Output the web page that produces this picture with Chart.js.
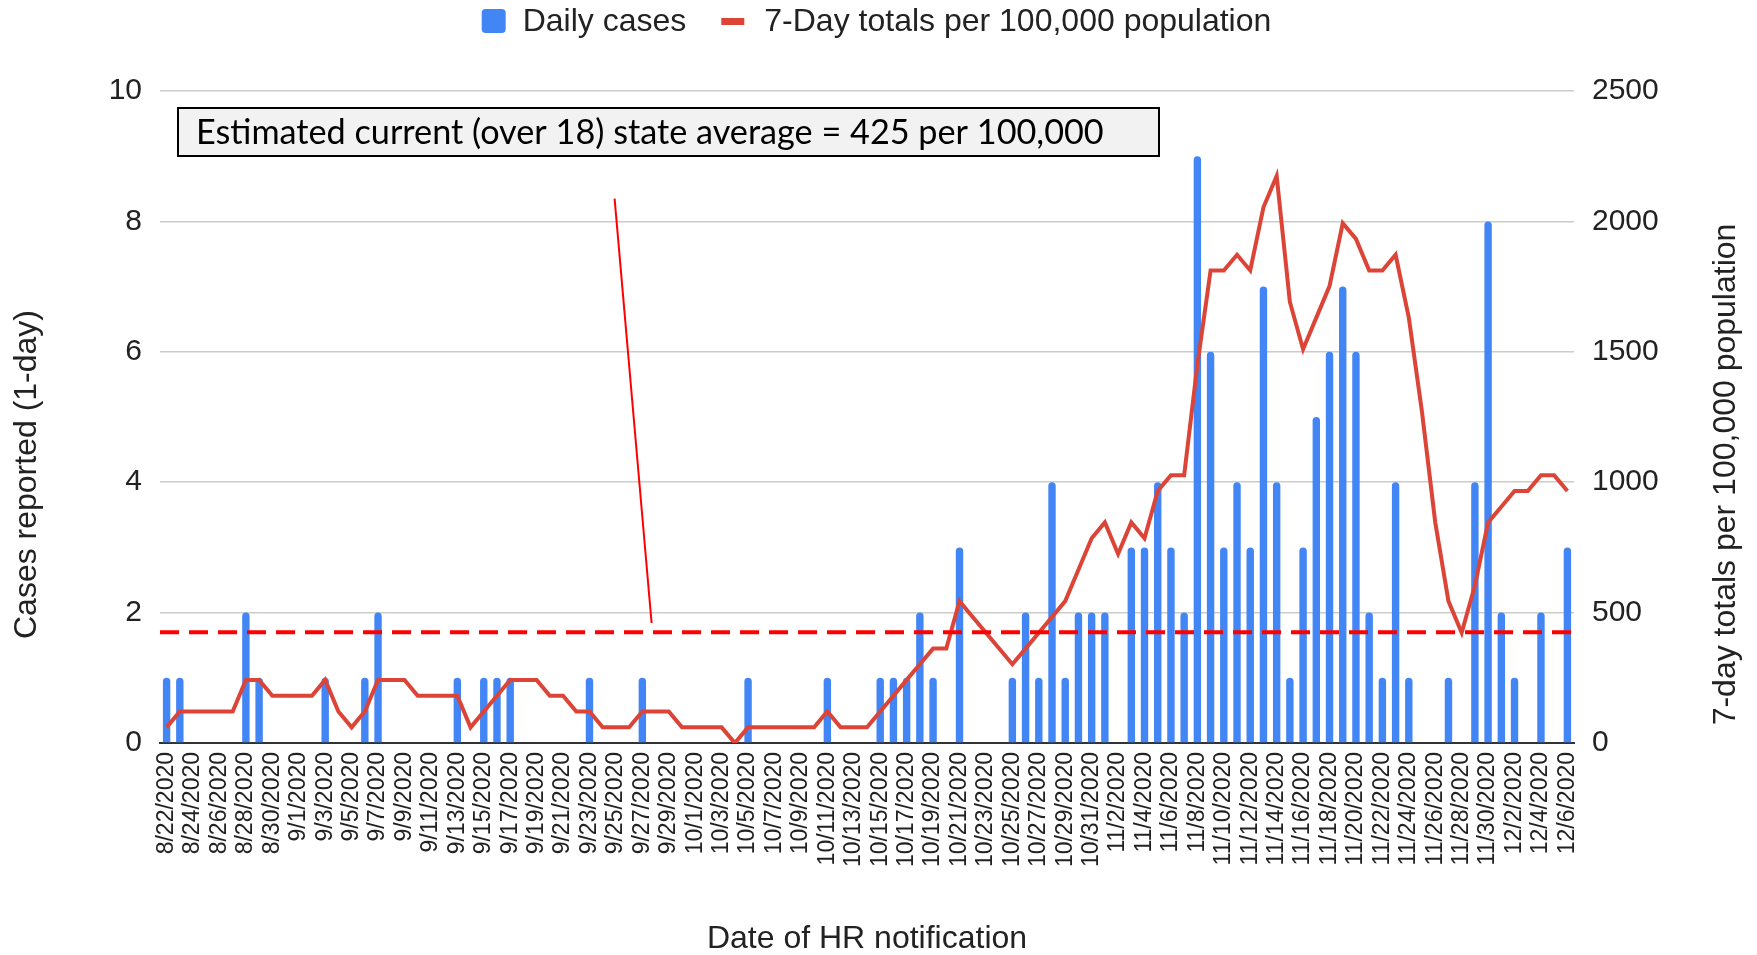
<!DOCTYPE html>
<html><head><meta charset="utf-8">
<script src="https://cdn.jsdelivr.net/npm/chart.js@4.4.1/dist/chart.umd.min.js"></script>
<style>html,body{margin:0;padding:0;background:#fff;}#wrap{width:1757px;height:955px;position:relative;}</style>
</head><body><div id="wrap"><canvas id="c" width="1757" height="955"></canvas></div>
<script>
const categories = [
'8/22/2020','8/23/2020','8/24/2020','8/25/2020','8/26/2020','8/27/2020','8/28/2020','8/29/2020','8/30/2020','8/31/2020',
'9/1/2020','9/2/2020','9/3/2020','9/4/2020','9/5/2020','9/6/2020','9/7/2020','9/8/2020','9/9/2020','9/10/2020',
'9/11/2020','9/12/2020','9/13/2020','9/14/2020','9/15/2020','9/16/2020','9/17/2020','9/18/2020','9/19/2020','9/20/2020',
'9/21/2020','9/22/2020','9/23/2020','9/24/2020','9/25/2020','9/26/2020','9/27/2020','9/28/2020','9/29/2020','9/30/2020',
'10/1/2020','10/2/2020','10/3/2020','10/4/2020','10/5/2020','10/6/2020','10/7/2020','10/8/2020','10/9/2020','10/10/2020',
'10/11/2020','10/12/2020','10/13/2020','10/14/2020','10/15/2020','10/16/2020','10/17/2020','10/18/2020','10/19/2020','10/20/2020',
'10/21/2020','10/22/2020','10/23/2020','10/24/2020','10/25/2020','10/26/2020','10/27/2020','10/28/2020','10/29/2020','10/30/2020',
'10/31/2020','11/1/2020','11/2/2020','11/3/2020','11/4/2020','11/5/2020','11/6/2020','11/7/2020','11/8/2020','11/9/2020',
'11/10/2020','11/11/2020','11/12/2020','11/13/2020','11/14/2020','11/15/2020','11/16/2020','11/17/2020','11/18/2020','11/19/2020',
'11/20/2020','11/21/2020','11/22/2020','11/23/2020','11/24/2020','11/25/2020','11/26/2020','11/27/2020','11/28/2020','11/29/2020',
'11/30/2020','12/1/2020','12/2/2020','12/3/2020','12/4/2020','12/5/2020','12/6/2020'
];
const dailyCases = [
1,1,0,0,0,0,2,1,0,0,
0,0,1,0,0,1,2,0,0,0,
0,0,1,0,1,1,1,0,0,0,
0,0,1,0,0,0,1,0,0,0,
0,0,0,0,1,0,0,0,0,0,
1,0,0,0,1,1,1,2,1,0,
3,0,0,0,1,2,1,4,1,2,
2,2,0,3,3,4,3,2,9,6,
3,4,3,7,4,1,3,5,6,7,
6,2,1,4,1,0,0,1,0,4,
8,2,1,0,2,0,3
];
const sevenDayTotals = [
60,121,121,121,121,121,242,242,181,181,
181,181,242,121,60,121,242,242,242,181,
181,181,181,60,121,181,242,242,242,181,
181,121,121,60,60,60,121,121,121,60,
60,60,60,0,60,60,60,60,60,60,
121,60,60,60,121,181,242,302,362,362,
544,483,423,362,302,362,423,483,544,664,
785,846,725,846,785,966,1027,1027,1450,1812,
1812,1872,1812,2054,2174,1691,1510,1631,1752,1993,
1933,1812,1812,1872,1631,1268,846,544,423,604,
846,906,966,966,1027,1027,966
];
const leftTicks = [0, 2, 4, 6, 8, 10];
const rightTicks = [0, 500, 1000, 1500, 2000, 2500];
const STATE_AVERAGE = 425;
const seriesNames = ['Daily cases', '7-Day totals per 100,000 population'];
const xTitle = 'Date of HR notification';
const leftTitle = 'Cases reported (1-day)';
const rightTitle = '7-day totals per 100,000 population';
const noteText = 'Estimated current (over 18) state average = 425 per 100,000';
// annotation pointer anchored in data space: [category index, left-axis value]
const pointerFrom = [33.9, 8.35];
const pointerTo = [36.7, 1.84];

const FONT = "'Liberation Sans', Arial, sans-serif";
const BLUE = '#4285f4', RED = '#db4437', TXT = '#222222';

const overlay = {
  id: 'overlay',
  afterDatasetsDraw(chart) {
    const {ctx, chartArea: a, scales} = chart;
    const yy = scales.y1.getPixelForValue(STATE_AVERAGE);
    ctx.save();
    ctx.strokeStyle = '#ff0000'; ctx.lineWidth = 4; ctx.setLineDash([19, 10]);
    ctx.beginPath(); ctx.moveTo(a.left, yy); ctx.lineTo(a.right, yy); ctx.stroke();
    ctx.restore();
  },
  afterDraw(chart) {
    const {ctx, chartArea: a, scales} = chart;
    ctx.save();
    ctx.strokeStyle = '#ff0000'; ctx.lineWidth = 2;
    ctx.beginPath();
    ctx.moveTo(scales.x.getPixelForValue(pointerFrom[0]), scales.y.getPixelForValue(pointerFrom[1]));
    ctx.lineTo(scales.x.getPixelForValue(pointerTo[0]), scales.y.getPixelForValue(pointerTo[1]));
    ctx.stroke();
    const bx = a.left + 18, by = a.top + 17, bw = 981, bh = 48;
    ctx.fillStyle = '#f2f2f2'; ctx.fillRect(bx, by, bw, bh);
    ctx.strokeStyle = '#000'; ctx.lineWidth = 2; ctx.strokeRect(bx, by, bw, bh);
    ctx.font = "100px Lato, 'Open Sans', sans-serif";
    const m = ctx.measureText(noteText).width;
    const fs = 100 * 908 / m;
    ctx.font = fs.toFixed(2) + "px Lato, 'Open Sans', sans-serif";
    ctx.fillStyle = '#000'; ctx.textBaseline = 'middle'; ctx.textAlign = 'left';
    ctx.fillText(noteText, bx + 18, by + bh / 2 + 1);
    ctx.font = '32px ' + FONT;
    const w1 = ctx.measureText(seriesNames[0]).width, w2 = ctx.measureText(seriesNames[1]).width;
    const total = 22 + 18 + w1 + 35 + 23 + 20 + w2;
    let lx = (a.left + a.right) / 2 + 9 - total / 2;
    const cy = 21;
    ctx.fillStyle = BLUE;
    ctx.beginPath(); ctx.roundRect(lx, cy - 12, 24, 24, 4); ctx.fill();
    lx += 41;
    ctx.fillStyle = TXT; ctx.fillText(seriesNames[0], lx, cy + 1);
    lx += w1 + 35;
    ctx.fillStyle = RED; ctx.fillRect(lx, cy - 3, 23, 7);
    lx += 43;
    ctx.fillStyle = TXT; ctx.fillText(seriesNames[1], lx, cy + 1);
    ctx.textAlign = 'center';
    const ty = chart.height / 2 - 3;
    ctx.save(); ctx.translate(27, ty); ctx.rotate(-Math.PI / 2); ctx.fillText(leftTitle, 0, 0); ctx.restore();
    ctx.save(); ctx.translate(1726, ty); ctx.rotate(-Math.PI / 2); ctx.fillText(rightTitle, 0, 0); ctx.restore();
    ctx.restore();
  }
};

new Chart(document.getElementById('c'), {
  data: {
    labels: categories,
    datasets: [
      {type: 'line', label: seriesNames[1], data: sevenDayTotals, yAxisID: 'y1', borderColor: RED, backgroundColor: RED,
       borderWidth: 4, pointRadius: 0, tension: 0, order: 0},
      {type: 'bar', label: seriesNames[0], data: dailyCases, yAxisID: 'y', backgroundColor: BLUE,
       barPercentage: 0.56, categoryPercentage: 1, borderRadius: {topLeft: 4, topRight: 4, bottomLeft: 0, bottomRight: 0},
       borderSkipped: 'start', order: 1}
    ]
  },
  options: {
    responsive: false, animation: false, devicePixelRatio: 1,
    layout: {padding: {top: 91, left: 0, right: 0, bottom: 0}},
    plugins: {legend: {display: false}, tooltip: {enabled: false}},
    scales: {
      x: {
        grid: {display: false, drawTicks: false},
        border: {display: true, color: '#333333', width: 2},
        ticks: {autoSkip: false, minRotation: 90, maxRotation: 90, padding: 9, color: TXT,
          font: {family: FONT, size: 23},
          callback: (v, i) => (i % 2 === 0 ? categories[i] : '')},
        title: {display: true, text: xTitle, color: TXT, font: {family: FONT, size: 32, lineHeight: 1}, padding: {top: 0, bottom: 0}},
        afterFit: s => { s.height = 212; }
      },
      y: {
        position: 'left', min: 0, max: 10,
        afterBuildTicks: s => { s.ticks = leftTicks.map(v => ({value: v})); },
        grid: {color: '#cccccc', lineWidth: 1.5, drawTicks: false},
        border: {display: false},
        ticks: {padding: 18, color: TXT, font: {family: FONT, size: 30}, callback: v => String(v)},
        afterFit: s => { s.width = 160; }
      },
      y1: {
        position: 'right', min: 0, max: 2500,
        afterBuildTicks: s => { s.ticks = rightTicks.map(v => ({value: v})); },
        grid: {display: false, drawTicks: false},
        border: {display: false},
        ticks: {padding: 18, color: TXT, font: {family: FONT, size: 30}, callback: v => String(v)},
        afterFit: s => { s.width = 183; }
      }
    }
  },
  plugins: [overlay]
});
</script>
</body></html>
